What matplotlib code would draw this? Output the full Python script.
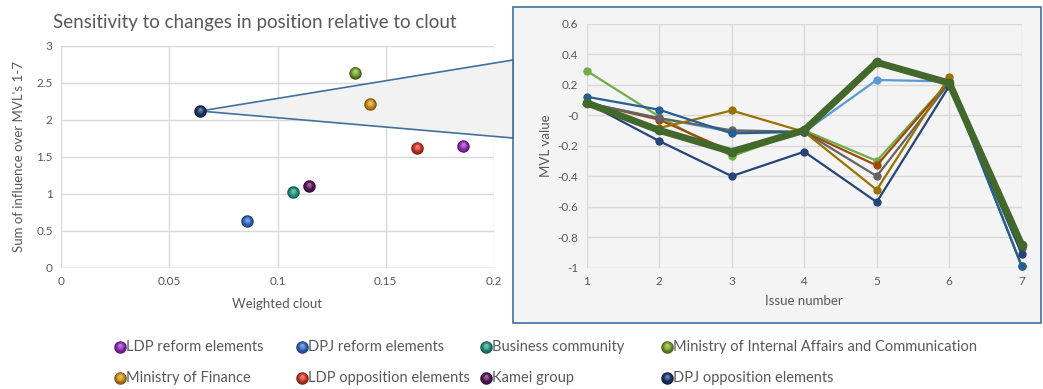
import numpy as np
import matplotlib
matplotlib.use('Agg')
import matplotlib.pyplot as plt
from matplotlib.lines import Line2D
from matplotlib.patches import Rectangle, Polygon
from matplotlib.ticker import FuncFormatter
from matplotlib.colors import to_rgb
from matplotlib.transforms import offset_copy

plt.rcParams['font.family'] = ['Lato', 'DejaVu Sans']
plt.rcParams['axes.unicode_minus'] = False

# scatter: actors, weighted clout vs. summed influence
actors = ['LDP reform elements', 'DPJ reform elements', 'Business community',
          'Ministry of Internal Affairs and Communication',
          'Ministry of Finance', 'LDP opposition elements', 'Kamei group',
          'DPJ opposition elements']
clout = [0.1858, 0.0858, 0.1073, 0.1358, 0.1427, 0.1643, 0.1145, 0.0642]
influence = [1.645, 0.63, 1.02, 2.635, 2.21, 1.62, 1.107, 2.118]
actor_colors = ['#9a2fc0', '#3a6fc8', '#2a9a88', '#7fa832',
                '#d8951c', '#d63d2c', '#5b1a5e', '#1e3a6c']

# inset: MVL value per issue
issues = [1, 2, 3, 4, 5, 6, 7]
mvl_light_green = [0.29, -0.01, -0.27, -0.10, -0.30, 0.22, -0.99]
mvl_dark_blue = [0.12, 0.035, -0.12, -0.11, 0.35, 0.21, -0.99]
mvl_light_blue = [0.08, -0.02, -0.11, -0.11, 0.23, 0.22, -0.99]
mvl_brown = [0.08, -0.03, -0.24, -0.11, -0.33, 0.22, -0.86]
mvl_gray = [0.08, -0.02, -0.10, -0.11, -0.40, 0.21, -0.87]
mvl_gold = [0.08, -0.085, 0.03, -0.11, -0.49, 0.25, -0.86]
mvl_navy = [0.08, -0.17, -0.40, -0.24, -0.57, 0.19, -0.91]
mvl_thick = [0.08, -0.10, -0.24, -0.10, 0.345, 0.21, -0.85]

thin_lines = [(mvl_light_blue, '#5b9bd5'), (mvl_light_green, '#70ad47'),
              (mvl_brown, '#9e480e'), (mvl_gray, '#636363'),
              (mvl_gold, '#997300'), (mvl_navy, '#264478'),
              (mvl_dark_blue, '#255e91')]

txt = '#595959'
grid = '#d9d9d9'
W, H = 1043, 389

fig = plt.figure(figsize=(W / 100, H / 100), dpi=100)


def shade(c, f):
    r = np.array(to_rgb(c))
    if f < 0:
        return tuple(r * (1 + f))
    return tuple(r + (1 - r) * f)


def ball(x, y, c, size, trans, z=3):
    # fake 3d sphere: stack of circles, darker rim to lighter top highlight
    steps = 7
    for k in range(steps):
        t = k / (steps - 1)
        f = -0.45 + 0.8 * t
        ms = size * (1 - 0.75 * t)
        tr = offset_copy(trans, fig=fig, x=0, y=1.2 * t, units='points')
        fig.add_artist(Line2D([x], [y], marker='o', ms=ms, mfc=shade(c, f), mec='none',
                              transform=tr, zorder=z + k * 0.01))


def style(ax):
    for s in ax.spines.values():
        s.set_visible(False)
    ax.grid(True, color=grid, lw=1)
    ax.set_axisbelow(True)
    ax.tick_params(length=0, colors=txt, labelsize=8.5, pad=6)
    fmt = FuncFormatter(lambda v, p: '%g' % round(v, 3))
    ax.xaxis.set_major_formatter(fmt)
    ax.yaxis.set_major_formatter(fmt)


# left scatter
ax = fig.add_axes([61 / W, 1 - 268 / H, 433 / W, 222.3 / H])
style(ax)
ax.set_xlim(0, 0.2)
ax.set_ylim(0, 3)
ax.set_xticks(np.arange(0, 0.21, 0.05))
ax.set_yticks(np.arange(0, 3.1, 0.5))
ax.axhline(0, color='#bfbfbf', lw=1)
ax.set_xlabel('Weighted clout', color=txt, fontsize=9.5, labelpad=8)
ax.set_ylabel("Sum of influence over MVL's 1-7", color=txt, fontsize=9.5, labelpad=8)
ax.set_title('Sensitivity to changes in position relative to clout',
             color=txt, fontsize=13.5, x=0.448, y=1.04)

# connector wedge from the DPJ opposition point to the inset box
p = fig.transFigure.inverted().transform(ax.transData.transform((clout[-1], influence[-1])))
wedge = Polygon([p, (513 / W, 1 - 60 / H), (513 / W, 1 - 138 / H)], closed=True,
                transform=fig.transFigure, facecolor='#f2f2f2', edgecolor='#41719c',
                lw=1.2, zorder=1)
ax.add_artist(wedge)
wedge.set_clip_on(False)

for x, y, c in zip(clout, influence, actor_colors):
    ball(x, y, c, 9, ax.transData)

# inset box
box = Rectangle((513 / W, 1 - 323 / H), 528 / W, 316 / H, transform=fig.transFigure,
                facecolor='#f4f4f4', edgecolor='#41719c', lw=1.2, zorder=0)
fig.add_artist(box)

ax2 = fig.add_axes([586.7 / W, 1 - 267.7 / H, 435 / W, 244.2 / H])
ax2.set_facecolor('#f4f4f4')
style(ax2)
ax2.set_xlim(1, 7)
ax2.set_ylim(-1, 0.6)
ax2.set_xticks(issues)
ax2.set_yticks(np.arange(-1, 0.61, 0.2))
ax2.set_xlabel('Issue number', color=txt, fontsize=9.5, labelpad=6)
ax2.set_ylabel('MVL value', color=txt, fontsize=9.5, labelpad=4)

for vals, c in thin_lines:
    ax2.plot(issues, vals, '-o', color=c, lw=1.6, ms=5, clip_on=False, zorder=3)
ax2.plot(issues, mvl_thick, '-o', color='#43682b', lw=5, ms=6, clip_on=False, zorder=4)

# legend
col_x = [120, 302, 486, 667]
row_y = [347, 378]
for i, (name, c) in enumerate(zip(actors, actor_colors)):
    x = col_x[i % 4] / W
    y = 1 - row_y[i // 4] / H
    ball(x, y, c, 9, fig.transFigure)
    fig.text(x + 6 / W, y, name, color=txt, fontsize=10.5, va='center', ha='left')

fig.savefig('out.png', dpi=100)
